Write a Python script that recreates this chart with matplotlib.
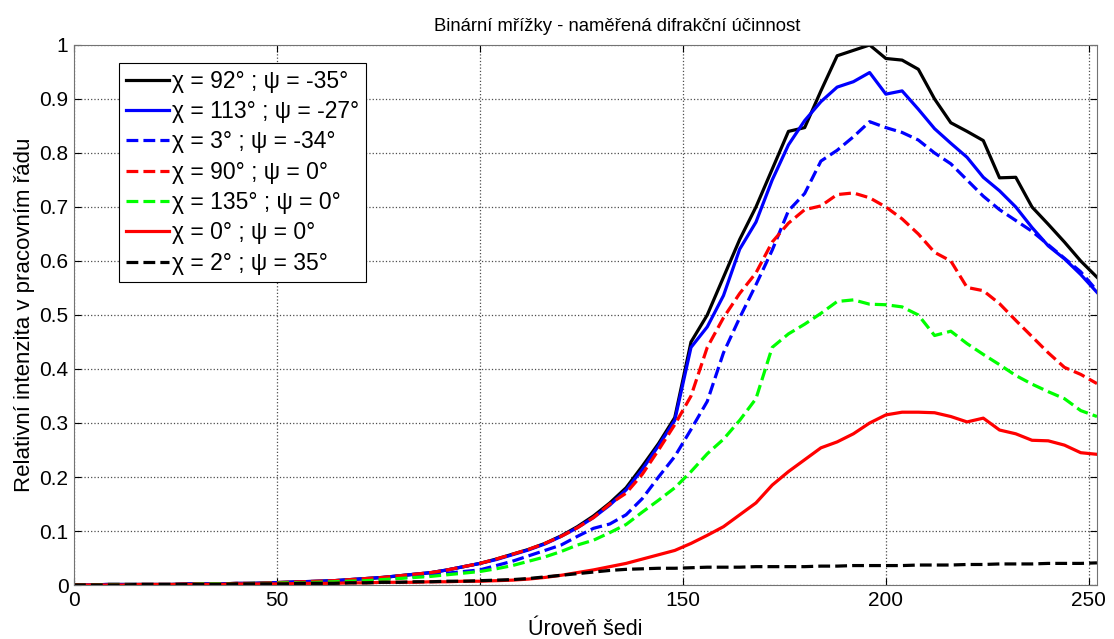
import numpy as np
import matplotlib
matplotlib.use("Agg")
import matplotlib.pyplot as plt

plt.rcParams["font.family"] = ["Liberation Sans", "DejaVu Sans"]

# uroven sedi 0..252, krok 4
x = np.arange(0, 253, 4)

low_top = [0.000, 0.000, 0.001, 0.001, 0.001, 0.001, 0.001, 0.002, 0.002, 0.002,
           0.003, 0.003, 0.004, 0.005, 0.006, 0.007, 0.008, 0.010, 0.012, 0.014,
           0.017, 0.020, 0.023, 0.028, 0.034]

black = low_top + [0.040, 0.048, 0.057, 0.066, 0.077, 0.091, 0.108, 0.128, 0.152, 0.180,
                   0.220, 0.262, 0.310,
                   0.450, 0.500, 0.570, 0.640, 0.700, 0.770, 0.840, 0.847, 0.915, 0.980,
                   0.990, 1.000, 0.975, 0.972, 0.955, 0.900, 0.856, 0.840, 0.823, 0.754,
                   0.755, 0.700, 0.668, 0.635, 0.600, 0.570]

blue = low_top + [0.040, 0.047, 0.056, 0.065, 0.076, 0.090, 0.106, 0.125, 0.148, 0.176,
                  0.214, 0.258, 0.305,
                  0.440, 0.478, 0.536, 0.622, 0.672, 0.750, 0.815, 0.860, 0.895, 0.922,
                  0.932, 0.949, 0.909, 0.915, 0.881, 0.845, 0.818, 0.792, 0.755, 0.730,
                  0.700, 0.662, 0.628, 0.604, 0.575, 0.542]

blue_d = [0.000, 0.000, 0.001, 0.001, 0.001, 0.001, 0.001, 0.001, 0.002, 0.002,
          0.002, 0.003, 0.003, 0.004, 0.005, 0.006, 0.007, 0.008, 0.009, 0.011,
          0.013, 0.016, 0.019, 0.022, 0.025,
          0.028, 0.036, 0.044, 0.054, 0.064, 0.074, 0.090, 0.105, 0.113, 0.130,
          0.160, 0.200, 0.238,
          0.288, 0.340, 0.430, 0.495, 0.556, 0.620, 0.693, 0.725, 0.785, 0.805,
          0.830, 0.858, 0.847, 0.838, 0.824, 0.800, 0.780, 0.750, 0.720, 0.695,
          0.675, 0.655, 0.630, 0.605, 0.580, 0.545]

red_d = low_top + [0.040, 0.048, 0.057, 0.066, 0.077, 0.090, 0.106, 0.125, 0.150, 0.170,
                   0.205, 0.250, 0.297,
                   0.350, 0.440, 0.495, 0.540, 0.578, 0.635, 0.670, 0.695, 0.702, 0.723,
                   0.726, 0.717, 0.700, 0.678, 0.650, 0.616, 0.600, 0.551, 0.545, 0.521,
                   0.490, 0.460, 0.430, 0.403, 0.390, 0.373]

green_d = [0.000, 0.000, 0.001, 0.001, 0.001, 0.001, 0.001, 0.001, 0.002, 0.002,
           0.002, 0.003, 0.003, 0.004, 0.004, 0.005, 0.006, 0.007, 0.008, 0.010,
           0.012, 0.014, 0.016, 0.019, 0.022,
           0.025, 0.030, 0.036, 0.044, 0.052, 0.062, 0.074, 0.083, 0.097, 0.112,
           0.135, 0.157, 0.180,
           0.210, 0.243, 0.270, 0.305, 0.345, 0.440, 0.465, 0.483, 0.503, 0.525,
           0.528, 0.520, 0.519, 0.515, 0.500, 0.462, 0.470, 0.447, 0.427, 0.408,
           0.388, 0.372, 0.358, 0.345, 0.323, 0.312]

red = [0.000, 0.000, 0.000, 0.000, 0.001, 0.001, 0.001, 0.001, 0.001, 0.001,
       0.002, 0.002, 0.002, 0.002, 0.003, 0.003, 0.003, 0.004, 0.004, 0.005,
       0.005, 0.005, 0.006, 0.006, 0.007,
       0.007, 0.008, 0.009, 0.011, 0.014, 0.018, 0.023, 0.028, 0.034, 0.040,
       0.048, 0.056, 0.064,
       0.077, 0.092, 0.108, 0.130, 0.152, 0.185, 0.210, 0.232, 0.254, 0.265,
       0.280, 0.300, 0.315, 0.320, 0.320, 0.319, 0.312, 0.302, 0.309, 0.287,
       0.280, 0.268, 0.267, 0.259, 0.245, 0.242]

black_d = [0.000, 0.000, 0.000, 0.000, 0.001, 0.001, 0.001, 0.001, 0.001, 0.001,
           0.002, 0.002, 0.002, 0.002, 0.003, 0.003, 0.003, 0.004, 0.004, 0.005,
           0.005, 0.006, 0.006, 0.007, 0.007,
           0.008, 0.009, 0.010, 0.012, 0.015, 0.018, 0.021, 0.024, 0.027, 0.029,
           0.030, 0.031, 0.031,
           0.032, 0.033, 0.033, 0.033, 0.034, 0.034, 0.034, 0.034, 0.035, 0.035,
           0.036, 0.036, 0.036, 0.036, 0.037, 0.037, 0.037, 0.038, 0.038, 0.039,
           0.039, 0.039, 0.040, 0.040, 0.040, 0.041]

labels = ["χ = 92° ; ψ = -35°", "χ = 113° ; ψ = -27°", "χ = 3° ; ψ = -34°",
          "χ = 90° ; ψ = 0°", "χ = 135° ; ψ = 0°", "χ = 0° ; ψ = 0°",
          "χ = 2° ; ψ = 35°"]


def main():
    fig = plt.figure(figsize=(11.14, 6.39), dpi=100)
    ax = fig.add_axes([0.0664, 0.0845, 0.9183, 0.8451])

    lw = 2.3
    ax.plot(x, black, color="k", lw=lw, label=labels[0])
    ax.plot(x, blue, color="b", lw=lw, label=labels[1])
    ax.plot(x, blue_d, color="b", lw=lw, ls="--", label=labels[2])
    ax.plot(x, red_d, color="r", lw=lw, ls="--", label=labels[3])
    ax.plot(x, green_d, color=(0, 1, 0), lw=lw, ls="--", label=labels[4])
    ax.plot(x, red, color="r", lw=lw, label=labels[5])
    ax.plot(x, black_d, color="k", lw=lw, ls="--", label=labels[6])

    ax.set_xlim(0, 252)
    ax.set_ylim(0, 1)
    ax.set_xticks([0, 50, 100, 150, 200, 250])
    ax.set_yticks(np.arange(0, 1.01, 0.1))
    ax.set_yticklabels(["0", "0.1", "0.2", "0.3", "0.4", "0.5", "0.6", "0.7",
                        "0.8", "0.9", "1"])
    ax.tick_params(direction="in", top=True, right=True, length=5, labelsize=15,
                   pad=4)
    ax.grid(True, ls=":", color="0.3", lw=0.9)
    for s in ax.spines.values():
        s.set_color("0.45")

    ax.set_title("Binární mřížky - naměřená difrakční účinnost", fontsize=13.3,
                 pad=10, x=0.531)
    ax.set_xlabel("Úroveň šedi", fontsize=15.5, labelpad=7)
    ax.set_ylabel("Relativní intenzita v pracovním řádu", fontsize=16, labelpad=3)

    leg = ax.legend(loc="upper left", bbox_to_anchor=(0.0443, 0.967), fontsize=16.5,
                    handlelength=1.85, handletextpad=0.15, labelspacing=0.32,
                    borderpad=0.3, borderaxespad=0, fancybox=False, framealpha=1)
    leg.get_frame().set_edgecolor("k")
    leg.get_frame().set_linewidth(0.8)

    fig.savefig("out.png", dpi=100)


if __name__ == "__main__":
    main()
